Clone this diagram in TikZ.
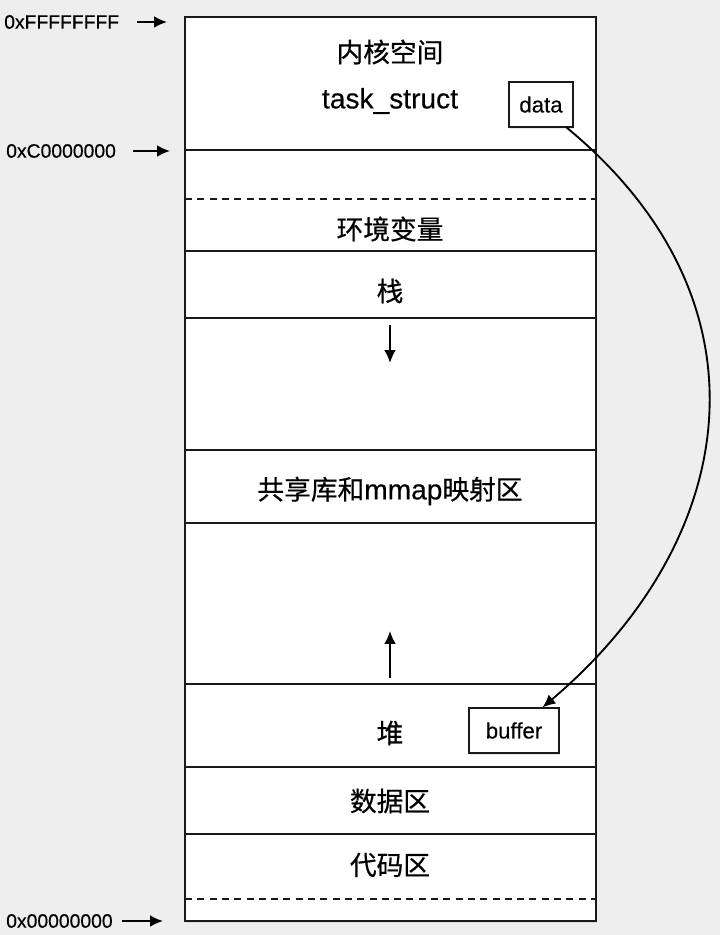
\documentclass[tikz,border=0pt]{standalone}
\usepackage{fontspec}
\setmainfont{Liberation Sans}[FakeBold=0.35]
\newfontfamily\cjk{Noto Sans CJK SC}[Scale=0.95, FakeBold=0.5]
\usetikzlibrary{arrows.meta, shadows, positioning}
\definecolor{canvas}{HTML}{EEEEEE}
\definecolor{inkline}{HTML}{1A1A1A}

\tikzset{
  seglabel/.style={font=\fontsize{24}{28}\selectfont, inner sep=0pt},
  addr/.style={font=\fontsize{16.5}{20}\selectfont, anchor=west, inner sep=0pt},
  tagbox/.style={draw=inkline, fill=white, line width=1pt, inner sep=0pt,
    minimum height=1.35cm, font=\fontsize{19}{22}\selectfont,
    drop shadow={opacity=0.18, shadow xshift=1pt, shadow yshift=-1.5pt}},
  membox/.style={draw=inkline, fill=white, line width=1pt,
    drop shadow={opacity=0.18, shadow xshift=1pt, shadow yshift=-1.5pt}},
  sepline/.style={draw=inkline, line width=1pt},
  ptr/.style={-{Latex[length=11pt, width=10pt]}, line width=1.6pt, draw=black},
}

\begin{document}
\begin{tikzpicture}[x=0.03cm, y=-0.03cm]
  \fill[canvas] (0,0) rectangle (720,935);
  \useasboundingbox (0,0) rectangle (720,935);

  % address space
  \path[membox] (185,17) rectangle (596,921);
  \foreach \y in {150,251,318,450,523,684,767,834}
    \draw[sepline] (185,\y) -- (596,\y);
  \foreach \y in {199,899}
    \draw[sepline, dash pattern=on 6pt off 4.5pt] (185,\y) -- (596,\y);

  % segments
  \node[seglabel] (kernel) at (390,52) {\cjk 内核空间};
  \node[seglabel] (task) at (390,101) {task\_struct};
  \node[tagbox, minimum width=1.92cm] (data) at (541,104.5) {data};
  \node[seglabel] (env) at (390,229) {\cjk 环境变量};
  \node[seglabel] (stack) at (390,291) {\cjk 栈};
  \node[seglabel] (mmap) at (390,491) {{\cjk 共享库和}mmap{\cjk 映射区}};
  \node[seglabel] (heap) at (390,733) {\cjk 堆};
  \node[tagbox, minimum width=2.7cm] (buffer) at (514,730.5) {buffer};
  \node[seglabel] (dataseg) at (390,801) {\cjk 数据区};
  \node[seglabel] (textseg) at (390,865) {\cjk 代码区};

  % growth
  \coordinate (stacktop) at (390,325);
  \coordinate (stackend) at (390,363);
  \coordinate (heaptop) at (390,678);
  \coordinate (heapend) at (390,631);
  \draw[ptr] (stacktop) -- (stackend);
  \draw[ptr] (heaptop) -- (heapend);

  % addresses
  \node[addr] (hi) at (4,22) {0xFFFFFFFF};
  \node[addr] (kbase) at (6,151) {0xC0000000};
  \node[addr] (lo) at (6,921) {0x00000000};
  \coordinate (hiend) at (167,22);
  \coordinate (kbaseend) at (170,151);
  \coordinate (loend) at (163,921);
  \draw[ptr] ([xshift=0.54cm]hi.east) -- (hiend);
  \draw[ptr] ([xshift=0.5cm]kbase.east) -- (kbaseend);
  \draw[ptr] ([xshift=0.27cm]lo.east) -- (loend);

  % copy data -> buffer
  \draw[ptr] (data.-42) .. controls (778,302) and (740,540) .. (buffer.39);
\end{tikzpicture}
\end{document}
